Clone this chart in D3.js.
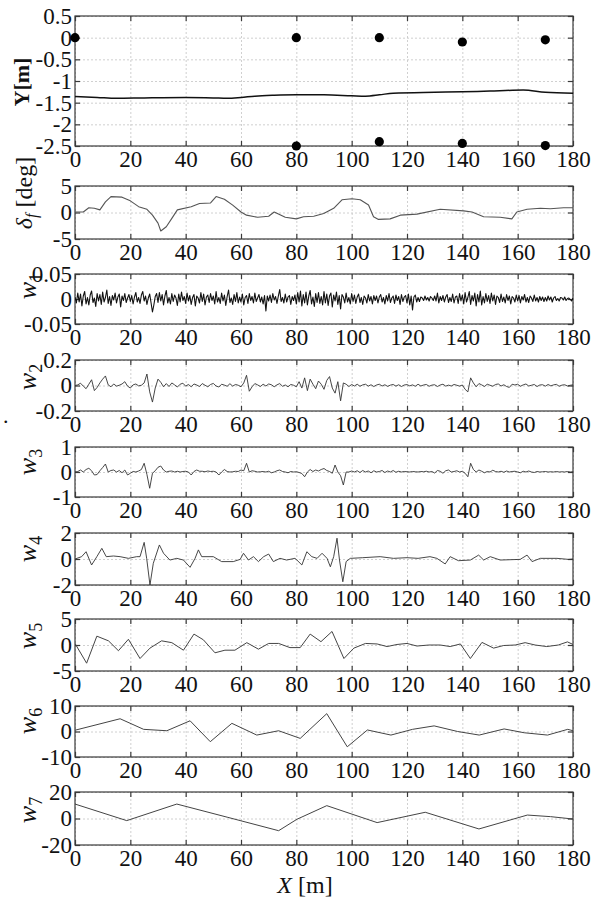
<!DOCTYPE html>
<html><head><meta charset="utf-8">
<script src="https://cdn.jsdelivr.net/npm/d3@7"></script>
<style>
body{margin:0;background:#fff;}
svg{display:block;font-family:"Liberation Serif","Times New Roman",serif;}
svg text{font-family:"Liberation Serif","Times New Roman",serif;}
</style></head>
<body><svg id="c" width="597" height="899"></svg>
<script>
// ---------------- DATA ----------------
const xTicks = [0,20,40,60,80,100,120,140,160,180];
const yTicksY = [0.5,0,-0.5,-1,-1.5,-2,-2.5];
const yTicksDelta = [5,0,-5];
const yTicksW1 = [0.05,0,-0.05];
const yTicksW2 = [0.2,0,-0.2];
const yTicksW3 = [1,0,-1];
const yTicksW4 = [2,0,-2];
const yTicksW5 = [5,0,-5];
const yTicksW6 = [10,0,-10];
const yTicksW7 = [20,0,-20];

// vehicle path
const pathX = [0,8,15,25,40,50,55,60,65,72,80,90,100,105,110,115,130,140,150,162,170,180];
const pathY = [-1.36,-1.38,-1.40,-1.39,-1.38,-1.39,-1.40,-1.38,-1.35,-1.33,-1.32,-1.32,-1.34,-1.35,-1.32,-1.28,-1.26,-1.25,-1.23,-1.21,-1.26,-1.28];
// cones
const coneTopX = [0,80,110,140,170];
const coneTopY = [0,0,0,-0.1,-0.05];
const coneBotX = [80,110,140,170];
const coneBotY = [-2.5,-2.4,-2.44,-2.49];

// steering angle delta_f
const deltaX = [0,3,5,7,9,11,13,17,20,23,26,28,30,31,33,35,37,42,45,49,51,54,57,60,62,66,70,72,76,80,82.6,86.3,89.9,93.5,96.5,100.1,103.1,106.1,107.9,109.7,113.9,117.6,123.6,132,140.5,143.5,147.7,153.7,157.9,159.7,163.4,168.2,171.8,176.6,180];
const deltaY = [0.1,0.1,0.9,0.8,0.5,2.0,3.0,2.9,2.2,1.1,0.6,-0.5,-2.0,-3.5,-2.7,-1.1,0.5,1.1,1.7,1.8,3.0,2.5,1.4,0.1,-0.5,-0.9,-0.7,0.1,-0.9,-1.2,-0.8,-0.7,-0.2,0.8,2.4,2.6,2.4,1.4,-0.8,-1.3,-1.2,-0.5,-0.3,0.6,0.3,0.1,-0.8,-0.9,-1.2,0.1,0.6,0.8,0.7,0.9,0.9];

// w1 sampled every 0.5 m
const w1Step = 0.5;
const w1 = [
.004,-.008,.012,-.006,.010,-.014,.006,.015,-.010,.003,-.012,.008,.016,-.007,.002,-.015,.011,-.004,.009,-.011,
.014,-.006,.003,.018,-.009,.005,-.013,.007,-.002,.012,-.008,.004,.010,-.016,.006,-.003,.011,-.007,.002,.009,
-.005,.007,-.010,.004,.013,-.006,.003,-.009,.008,.015,-.004,.006,-.011,.002,.010,-.008,-.026,-.012,.005,.011,
-.007,.013,-.004,.009,-.012,.006,.017,-.008,.003,-.010,.011,-.005,.008,.002,-.013,.010,-.006,.014,-.003,.005,
-.009,.012,-.004,.007,-.011,.003,.009,-.014,.006,.002,-.008,.013,-.005,.010,-.012,.004,.008,-.007,.011,-.003,
.006,-.010,.015,-.006,.003,-.009,.012,-.004,.008,-.013,.005,.018,-.007,.002,-.011,.009,-.005,.013,-.008,.004,
-.006,.010,-.012,.003,.007,-.009,.011,-.003,.005,-.008,.012,-.005,.002,.009,-.006,.004,-.010,.007,-.024,.006,
-.004,.008,-.007,.011,-.002,.005,-.009,.006,.019,-.005,.003,-.008,.010,-.006,.004,.007,-.011,.005,-.003,.008,
-.010,.013,-.006,.016,-.014,.009,-.008,.014,-.012,.006,.017,-.010,.004,-.015,.011,-.007,.013,-.009,.005,-.012,
.015,-.008,.010,-.013,.006,.012,-.016,.008,-.004,.014,-.011,.007,-.020,.009,.004,-.008,.012,-.006,.003,-.010,
.011,-.005,.008,-.009,.004,.010,-.007,.003,-.011,.006,.002,-.008,.009,-.004,.005,-.010,.007,-.003,.006,-.008,
.004,.009,-.006,.003,-.010,.007,-.004,.011,-.007,.002,.006,-.009,.008,-.003,.005,-.011,.009,-.005,.004,.007,
-.008,.010,-.012,.006,-.022,.004,.008,-.006,.003,-.005,.004,.002,-.003,.006,-.002,.003,-.004,.005,.002,-.003,
.006,-.004,.012,-.008,.005,-.003,.007,-.006,.004,.009,-.007,.003,-.005,.010,-.008,.004,.006,-.009,.011,-.004,
.008,-.010,.013,-.006,.003,.015,-.011,.007,-.004,.012,-.014,.009,-.006,.016,-.012,.005,-.008,.011,-.005,.007,
-.009,.012,-.004,.008,-.011,.006,.003,-.007,.010,-.005,.004,-.008,.009,-.003,.006,-.010,.005,.002,-.006,.008,
-.004,.007,-.008,.005,-.002,.009,-.006,.003,-.007,.006,.002,-.005,.008,-.004,.003,-.006,.005,-.003,.004,-.005,
.003,-.004,.006,-.002,.004,-.006,.002,.005,-.003,.001,-.004,.003,.002,-.002,.004,-.003,.001,.002,-.001,-.004,
.002];

// w2 sampled every 1 m
const w2Step = 1;
const w2 = [
0,.005,.018,-.005,-.025,.01,.045,-.04,-.015,.02,
.05,.075,.005,-.01,.012,-.005,.002,.012,.03,-.005,
-.02,.005,.012,-.003,.002,.02,.09,-.05,-.13,-.02,
.05,.025,-.01,.015,-.008,.02,.005,-.012,.01,.018,
-.005,.008,-.01,.012,.004,-.008,.015,.002,-.01,.008,
.016,-.004,-.012,.01,.003,-.006,.014,-.005,.008,.002,
-.01,.02,.08,-.045,-.01,.015,.005,-.008,.01,-.004,
.012,.006,-.01,.005,.015,-.006,.004,-.01,.008,.002,
-.01,.03,-.02,.06,-.04,.05,.01,-.025,.035,.01,
-.03,.04,.07,-.02,-.06,.03,-.12,.02,.01,-.008,
.008,-.004,.01,-.006,.005,.01,-.005,.006,-.008,.004,
.01,-.004,.006,-.007,.003,.008,-.005,.006,-.008,.004,
.007,-.003,.005,-.006,.01,-.004,.004,.008,-.006,.003,
.006,-.008,.004,.01,-.005,.003,-.004,.008,.002,-.005,
.004,-.03,-.05,.06,.02,-.01,.015,.005,-.008,.01,
.002,-.006,.008,.012,-.004,.006,-.008,-.015,.01,.004,
.01,-.006,.005,.012,-.004,.002,.008,-.008,.004,.006,
-.005,.008,-.003,.005,.009,-.006,.003,.006,-.004,.002,
.005];

// w3 sampled every 1 m
const w3Step = 1;
const w3 = [
0,.02,.08,0,.1,.15,.05,-.12,-.1,.05,
.18,.32,0,.06,.08,0,.06,-.03,.08,-.12,
-.05,.02,0,.04,.1,.35,-.1,-.65,-.05,.05,
.19,.24,.08,0,.03,.04,0,.03,0,.02,
.03,0,-.12,.02,.08,.03,.03,.01,.04,.02,
.03,0,-.12,0,.1,.02,0,.01,.03,.02,
.08,.05,.35,0,.05,.03,0,.01,.02,0,
.03,-.03,0,.05,.08,.02,0,-.03,.02,0,
.01,-.02,-.06,-.19,0,.1,.02,.08,.04,.1,
.14,.06,.02,-.05,.28,0,-.15,-.52,0,0,
.04,0,.05,-.02,.06,0,.04,-.03,.05,0,
.02,.06,-.02,.04,0,.06,-.01,.03,0,.02,
.01,0,.02,.01,0,.02,.01,.03,0,.02,
-.04,.06,.03,-.05,.05,.08,0,.02,.05,0,
.03,-.05,-.19,.35,.1,0,.08,.03,-.03,.02,
0,.07,.02,0,.03,-.01,.04,0,.02,.03,
0,-.03,.03,0,.04,0,-.02,.02,0,.01,
.02,0,.01,0,.02,0,.01,0,.02,0,
.01];

const w4X = [0,2.4,4,6,7.9,9.7,11.3,13.9,16.3,19.3,22.3,23.5,25,25.9,27.1,28.3,30.5,32,34.3,36.8,39.2,41.6,43.4,44.6,45.8,50,53,57.2,59.7,60.9,62.7,64.5,66.3,68.2,70,71.7,74.1,76.5,79.5,80.2,82,83.8,85.6,87.5,89.3,91.1,92.3,93.5,94.7,95.6,96.8,98,99.5,104,110.3,115.1,120,124,128.3,130.8,133.8,135.6,138.6,142.9,145.9,147.7,150.1,153.7,160.9,163.4,165.2,168.2,174.2,178.4,180];
const w4Y = [0,0.18,0.56,-0.46,0.18,0.82,0.18,0.23,0.18,0.05,0.18,0.18,1.28,0.05,-2.0,-0.33,1.08,0.44,-0.08,0.05,-0.08,-0.64,0.05,0.7,0.18,0.18,-0.2,-0.2,-0.03,0.44,-0.08,0.18,-0.2,0.18,0.38,-0.2,0.05,-0.08,0.05,-0.08,-0.46,0.56,0.18,0.05,0.44,0.05,-0.6,0.18,1.6,-0.08,-1.75,-0.2,0.05,0.1,0.18,0.05,0.1,0.05,0.18,0.05,-0.38,0.18,-0.13,-0.08,0.3,-0.08,0.18,-0.08,-0.03,0.3,-0.2,0.05,0.05,-0.03,0];

const w5X = [0,4.2,7.9,12.1,15.7,19.3,23.5,27.1,31.3,35,39.2,43,46.4,50.6,54.2,57.8,62.1,66.3,70,73.6,77.7,81.4,85,88.9,92.9,97.2,100.8,105,109.2,112.8,116.4,120,123.6,127.9,132,135.6,139.3,142.9,147.1,151.3,154.9,159.1,162.7,166.3,170.5,174.7,178,180];
const w5Y = [0.3,-3.5,1.7,0.8,-1.1,1.1,-2.6,-0.6,0.8,0.45,-1.0,2.1,1.0,-1.5,-1.0,-1.0,0.45,-0.8,0.3,0.3,-0.5,-0.5,2.1,0.64,2.6,-2.6,-0.6,0.3,0.2,-0.3,0.1,0.3,-0.2,0,0,-0.3,0.2,-2.6,0.5,-0.6,-0.1,0,0.45,0,-0.3,0,0.6,0.1];

const w6X = [0,16.3,24.8,33.2,41.6,48.9,56.7,65.7,73.6,81.4,91,98.4,105.7,114.2,122,129.8,138.3,146.1,155.1,162.4,170.8,178.1,180];
const w6Y = [0.5,5.0,0.85,0.3,4.2,-4.0,3.2,-1.4,0.3,-2.7,7.0,-6.0,0.6,-1.4,0.85,2.2,0,-1.4,1.0,-0.5,-1.4,0.85,0.3];

const w7X = [0,18.7,36.8,55,73.6,80.2,91,109.2,126.6,146,163.5,171.9,180];
const w7Y = [10.9,-1.6,10.9,1.0,-9.2,-0.6,9.7,-3.1,4.7,-7.9,2.6,1.4,-0.4];

// ---------------- LAYOUT ----------------
const serif = '"Liberation Serif","Times New Roman",serif';
const svg = d3.select("#c");
const L = 75, R = 573;
const x = d3.scaleLinear().domain([0,180]).range([L,R]);
const FONT = 23;
const gridColor = "#c4c4c4";
const axisColor = "#3a3a3a";

function panel(id, top, bottom, yDomain, yTicks) {
  const y = d3.scaleLinear().domain(yDomain).range([bottom, top]);
  const g = svg.append("g");
  svg.append("clipPath").attr("id","clip"+id)
    .append("rect").attr("x",L).attr("y",top).attr("width",R-L).attr("height",bottom-top);
  const gridStyle = s=>{s.select(".domain").remove(); s.selectAll("line").attr("stroke",gridColor).attr("stroke-dasharray","2,2").attr("stroke-width",0.8);};
  g.append("g").attr("transform",`translate(0,${bottom})`)
    .call(d3.axisBottom(x).tickValues(xTicks).tickSize(-(bottom-top)).tickFormat(""))
    .call(gridStyle);
  g.append("g").attr("transform",`translate(${L},0)`)
    .call(d3.axisLeft(y).tickValues(yTicks).tickSize(-(R-L)).tickFormat(""))
    .call(gridStyle);
  g.append("rect").attr("x",L).attr("y",top).attr("width",R-L).attr("height",bottom-top)
    .attr("fill","none").attr("stroke",axisColor).attr("stroke-width",1.2);
  const styleAx = s => {
    s.attr("font-family",serif).attr("font-size",FONT);
    s.select(".domain").remove();
    s.selectAll("line").attr("stroke",axisColor).attr("stroke-width",1.2);
    s.selectAll("text").attr("font-size",FONT).attr("fill","#111").attr("font-family",serif);
  };
  g.append("g").attr("transform",`translate(0,${bottom})`)
    .call(d3.axisBottom(x).tickValues(xTicks).tickSize(-5).tickPadding(5).tickFormat(d=>String(d)))
    .call(styleAx);
  g.append("g").attr("transform",`translate(0,${top})`)
    .call(d3.axisTop(x).tickValues(xTicks).tickSize(-5).tickFormat(""))
    .call(styleAx);
  g.append("g").attr("transform",`translate(${L},0)`)
    .call(d3.axisLeft(y).tickValues(yTicks).tickSize(-5).tickPadding(3).tickFormat(d=>String(d)))
    .call(styleAx);
  g.append("g").attr("transform",`translate(${R},0)`)
    .call(d3.axisRight(y).tickValues(yTicks).tickSize(-5).tickFormat(""))
    .call(styleAx);
  return {y, g, clip:"url(#clip"+id+")"};
}

function drawLine(p, xs, ys, color, width) {
  const data = xs.map((v,i)=>[v, ys[i]]);
  p.g.append("path").datum(data)
    .attr("clip-path", p.clip)
    .attr("fill","none").attr("stroke",color).attr("stroke-width",width)
    .attr("stroke-linejoin","round")
    .attr("d", d3.line().x(d=>x(d[0])).y(d=>p.y(d[1])));
}
function stepXs(arr, step){ return arr.map((_,i)=>i*step); }

const p1 = panel(1, 16, 146, [-2.5,0.5], yTicksY);
p1.g.append("path").datum(pathX.map((v,i)=>[v,pathY[i]]))
  .attr("fill","none").attr("stroke","#111").attr("stroke-width",1.5)
  .attr("d", d3.line().curve(d3.curveMonotoneX).x(d=>x(d[0])).y(d=>p1.y(d[1])));
p1.g.selectAll(".ct").data(coneTopX.map((v,i)=>[v,coneTopY[i]])).join("circle")
  .attr("cx",d=>x(d[0])).attr("cy",d=>p1.y(d[1])).attr("r",4.6).attr("fill","#000");
p1.g.selectAll(".cb").data(coneBotX.map((v,i)=>[v,coneBotY[i]])).join("circle")
  .attr("cx",d=>x(d[0])).attr("cy",d=>p1.y(d[1])).attr("r",4.6).attr("fill","#000");

const p2 = panel(2, 186, 239, [-5,5], yTicksDelta);
drawLine(p2, deltaX, deltaY, "#555", 1.1);

const p3 = panel(3, 274, 324, [-0.05,0.05], yTicksW1);
drawLine(p3, stepXs(w1,w1Step), w1, "#111", 1.1);

const p4 = panel(4, 360, 411, [-0.2,0.2], yTicksW2);
drawLine(p4, stepXs(w2,w2Step), w2, "#333", 0.9);

const p5 = panel(5, 447, 497, [-1,1], yTicksW3);
drawLine(p5, stepXs(w3,w3Step), w3, "#333", 0.9);

const p6 = panel(6, 533, 585, [-2,2], yTicksW4);
drawLine(p6, w4X, w4Y, "#333", 0.9);

const p7 = panel(7, 619, 671, [-5,5], yTicksW5);
drawLine(p7, w5X, w5Y, "#444", 1);

const p8 = panel(8, 706, 757, [-10,10], yTicksW6);
drawLine(p8, w6X, w6Y, "#444", 1);

const p9 = panel(9, 792, 845, [-20,20], yTicksW7);
drawLine(p9, w7X, w7Y, "#444", 1);

// ---------------- LABELS ----------------
svg.append("text").attr("transform","translate(29,82) rotate(-90)")
  .attr("text-anchor","middle").attr("font-size",22).attr("font-weight","bold")
  .attr("font-family",serif).attr("fill","#111").text("Y[m]");

const dl = svg.append("text").attr("transform","translate(32,193) rotate(-90)")
  .attr("text-anchor","middle").attr("font-size",24).attr("font-family",serif).attr("fill","#111");
dl.append("tspan").attr("font-style","italic").text("δ");
dl.append("tspan").attr("font-style","italic").attr("font-size",16).attr("dy",5).text("f");
dl.append("tspan").attr("dy",-5).text(" [deg]");

const wLabels = [["1",286],["2",377],["3",462],["4",549],["5",636],["6",721],["7",810]];
wLabels.forEach(([s,cy])=>{
  const t = svg.append("text").attr("transform",`translate(36,${cy}) rotate(-90)`)
    .attr("text-anchor","middle").attr("font-size",26).attr("font-family",serif).attr("fill","#111");
  t.append("tspan").attr("font-style","italic").text("w");
  t.append("tspan").attr("font-size",18).attr("dy",6).text(s);
});

const xl = svg.append("text").attr("x",305).attr("y",893).attr("text-anchor","middle")
  .attr("font-size",24).attr("font-family",serif).attr("fill","#111");
xl.append("tspan").attr("font-style","italic").text("X");
xl.append("tspan").text(" [m]");

svg.append("text").attr("x",3).attr("y",423).attr("font-size",22).attr("font-family",serif).attr("fill","#111").text(".");
</script></body></html>
